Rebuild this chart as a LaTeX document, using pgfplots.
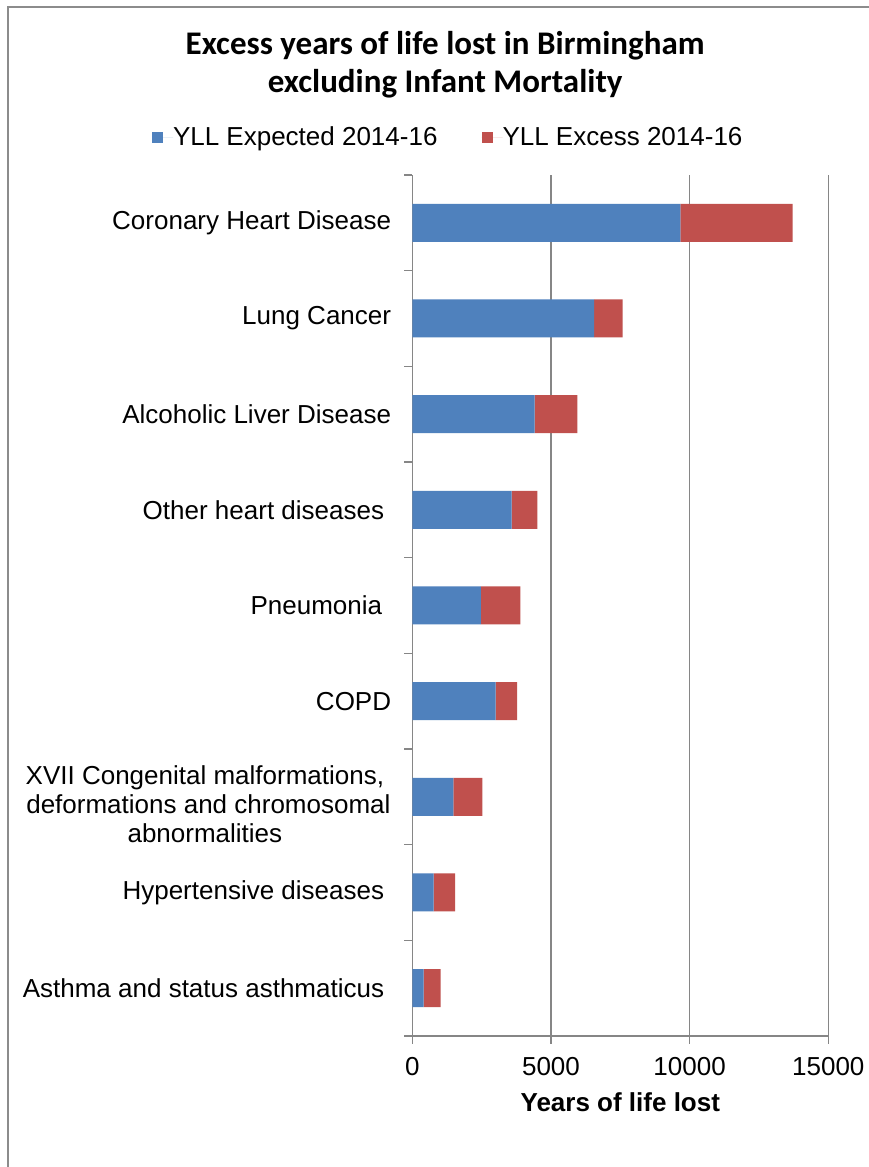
\documentclass[border=0pt]{standalone}
\usepackage{fontspec}
\setmainfont{Liberation Sans}
\newfontfamily\titlefont{Carlito}
\usepackage{pgfplots}
\pgfplotsset{compat=1.18}
\definecolor{xlblue}{HTML}{4F81BD}
\definecolor{xlred}{HTML}{C0504D}
\definecolor{xlgrid}{HTML}{868686}
\definecolor{xlframe}{HTML}{8C8C8C}
\newcommand{\lblfont}{\fontsize{26}{29}\selectfont}
\begin{document}
\begin{tikzpicture}
\useasboundingbox (0,0) rectangle (869pt,1167pt);
\fill[white] (0,0) rectangle (869pt,1167pt);
\draw[xlframe, line width=2pt] (7.5pt,0) -- (7.5pt,1159.5pt) -- (869pt,1159.5pt);
\begin{axis}[
  at={(412.3pt,131pt)}, anchor=south west,
  scale only axis, width=416pt, height=861pt,
  xbar stacked, bar width=38pt,
  xmin=0, xmax=15000, ymin=-0.5, ymax=8.5,
  xtick={0,5000,10000,15000},
  scaled x ticks=false,
  /pgf/number format/1000 sep={},
  /pgf/number format/assume math mode=true,
  ytick={-0.5,0.5,...,8.5},
  y tick label as interval,
  yticklabels={
    {Asthma and status asthmaticus\hspace*{7pt}},
    {Hypertensive diseases\hspace*{7pt}},
    {\rule{0pt}{33pt}XVII Congenital malformations,\hspace*{7pt}\\deformations and chromosomal\hspace*{7pt}\\abnormalities\hspace*{7pt}},
    {COPD},
    {Pneumonia\hspace*{9pt}},
    {Other heart diseases\hspace*{7pt}},
    {Alcoholic Liver Disease},
    {Lung Cancer},
    {Coronary Heart Disease}},
  axis lines*=left,
  axis line style={xlgrid, line width=1.3pt},
  tick style={xlgrid, line width=1.3pt},
  tick align=outside,
  major tick length=8pt,
  xmajorgrids, grid style={xlgrid, line width=1.3pt},
  tick label style={font=\lblfont, text=black},
  yticklabel style={align=center, anchor=east, inner sep=0pt, xshift=-13pt},
  xticklabel style={anchor=north, inner sep=0pt, yshift=-13pt},
  xlabel={\textbf{Years of life lost}},
  xlabel style={font=\lblfont, at={(axis description cs:0.5,0)}, anchor=center, yshift=-66pt},
  title={\textbf{Excess years of life lost in Birmingham}\\\textbf{excluding Infant Mortality}},
  title style={font=\titlefont\fontsize{33}{38.5}\selectfont, at={(0.079,1.121)}, anchor=center, align=center, inner sep=0pt},
  legend columns=2,
  legend style={draw=none, fill=none, at={(0.084,1.044)}, anchor=center,
    font=\lblfont, inner sep=0pt, nodes={inner sep=0pt},
    /tikz/every even column/.append style={column sep=44pt}},
  legend image code/.code={\fill[#1] (0pt,-5.5pt) rectangle (11pt,5.5pt); \path (0pt,0pt) -- (21pt,0pt);},
]
\addplot[fill=xlblue, draw=none] coordinates {
  (410,0) (770,1) (1480,2) (3000,3) (2470,4) (3580,5) (4410,6) (6560,7) (9670,8)};
\addlegendentry{YLL Expected 2014-16}
\addplot[fill=xlred, draw=none] coordinates {
  (610,0) (770,1) (1050,2) (780,3) (1430,4) (930,5) (1540,6) (1020,7) (4040,8)};
\addlegendentry{YLL Excess 2014-16}
\end{axis}
\end{tikzpicture}
\end{document}
